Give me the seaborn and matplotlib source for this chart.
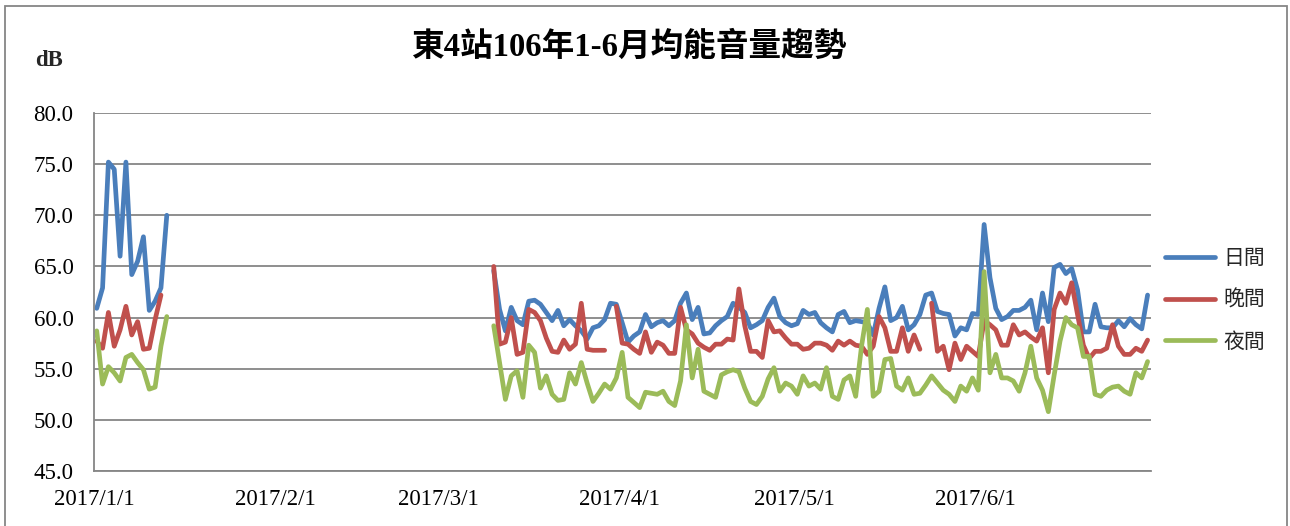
import numpy as np
import pandas as pd
import matplotlib
matplotlib.use("Agg")
import matplotlib.pyplot as plt
from matplotlib.patches import Rectangle
import seaborn as sns

# ---------------- data ----------------
title = "東4站106年1-6月均能音量趨勢"
series_names = ["日間", "晚間", "夜間"]
series_colors = ["#4A7EBB", "#C0504D", "#9BBB59"]

jan_start = "2017-01-01"
jan_day = [60.9, 62.9, 75.2, 74.5, 66.0, 75.2, 64.2, 65.5, 67.9, 60.7, 61.6, 62.9, 70.0]
jan_eve = [57.7, 57.0, 60.5, 57.2, 58.8, 61.1, 58.3, 59.6, 56.9, 57.0, 59.8, 62.2, np.nan]
jan_night = [58.7, 53.5, 55.2, 54.6, 53.8, 56.1, 56.4, 55.6, 54.9, 53.0, 53.2, 57.2, 60.1]

spring_start = "2017-03-10"
spring_day = [
    64.6, 60.8, 58.7, 61.0, 59.7, 59.3, 61.6, 61.7, 61.3, 60.5,
    59.7, 60.7, 59.2, 59.8, 59.2, 58.7, 57.9, 59.0, 59.2, 59.8,
    61.4, 61.3, 59.5, 57.6, 58.2, 58.6, 60.3, 59.1, 59.5, 59.7,
    59.2, 59.7, 61.4, 62.4, 59.8, 61.0, 58.4, 58.5, 59.2, 59.7,
    60.1, 61.4, 61.0, 60.5, 59.0, 59.3, 59.7, 61.0, 61.9, 60.1,
    59.5, 59.2, 59.4, 60.7, 60.3, 60.5, 59.5, 59.0, 58.6, 60.3,
    60.6, 59.5, 59.7, 59.6, 59.5, 58.3, 60.9, 63.0, 59.7, 60.0,
    61.1, 58.8, 59.3, 60.3, 62.2, 62.4, 60.6, 60.4, 60.3, 58.2,
    59.0, 58.8, 60.4, 60.3, 69.1, 63.9, 60.9, 59.8, 60.1, 60.7,
    60.7, 61.0, 61.7, 58.8, 62.4, 59.6, 64.9, 65.2, 64.3, 64.8,
    62.7, 58.6, 58.6, 61.3, 59.1, 59.0, 59.0, 59.7, 59.1, 59.9,
    59.3, 58.9, 62.2,
]
spring_eve = [
    65.0, 57.4, 57.6, 60.0, 56.4, 56.6, 60.8, 60.5, 59.7, 58.0,
    56.7, 56.6, 57.8, 56.9, 57.4, 61.4, 56.9, 56.8, 56.8, 56.8,
    np.nan, 61.1, 57.5, 57.4, 56.9, 56.5, 58.6, 56.6, 57.6, 57.3,
    56.5, 56.5, 61.0, 58.8, 58.4, 57.5, 57.1, 56.8, 57.4, 57.4,
    57.9, 57.8, 62.8, 59.2, 56.7, 56.7, 56.1, 59.7, 58.6, 58.7,
    58.0, 57.4, 57.4, 56.9, 57.0, 57.5, 57.5, 57.3, 56.8, 57.7,
    57.3, 57.7, 57.3, 57.2, 56.4, 57.2, 60.1, 59.0, 56.7, 56.7,
    59.0, 56.7, 58.3, 56.9, np.nan, 61.4, 56.7, 57.2, 54.9, 57.5,
    55.9, 57.2, 56.7, 56.2, 59.7, 59.3, 58.8, 57.3, 57.3, 59.3,
    58.3, 58.6, 58.1, 57.7, 59.0, 54.6, 60.8, 62.4, 61.4, 63.4,
    60.3, 57.3, 56.0, 56.7, 56.7, 57.0, 59.3, 57.2, 56.4, 56.4,
    57.0, 56.7, 57.8,
]
spring_night = [
    59.2, 55.6, 52.0, 54.3, 54.8, 52.2, 57.3, 56.6, 53.1, 54.3,
    52.5, 51.9, 52.0, 54.6, 53.5, 55.6, 53.6, 51.8, 52.6, 53.5,
    53.0, 54.1, 56.6, 52.2, 51.7, 51.2, 52.7, 52.6, 52.5, 52.8,
    51.8, 51.4, 53.8, 59.3, 54.1, 56.9, 52.8, 52.5, 52.2, 54.4,
    54.7, 54.9, 54.7, 53.1, 51.8, 51.5, 52.3, 54.0, 55.1, 52.8,
    53.6, 53.3, 52.5, 54.3, 53.3, 53.6, 53.0, 55.1, 52.3, 52.0,
    53.9, 54.3, 52.3, 57.2, 60.8, 52.3, 52.8, 55.9, 56.0, 53.3,
    52.9, 54.1, 52.5, 52.6, 53.4, 54.3, 53.6, 52.9, 52.5, 51.8,
    53.3, 52.8, 54.1, 52.9, 64.5, 54.6, 56.4, 54.1, 54.1, 53.8,
    52.8, 54.6, 57.2, 54.1, 52.9, 50.8, 54.4, 57.7, 60.0, 59.3,
    59.0, 56.2, 56.2, 52.5, 52.3, 52.9, 53.2, 53.3, 52.8, 52.5,
    54.6, 54.1, 55.7,
]

y_ticks = [45, 50, 55, 60, 65, 70, 75, 80]
x_tick_dates = ["2017-01-01", "2017-02-01", "2017-03-01", "2017-04-01",
                "2017-05-01", "2017-06-01", "2017-07-01"]
x_tick_labels = ["2017/1/1", "2017/2/1", "2017/3/1", "2017/4/1",
                 "2017/5/1", "2017/6/1", ""]

# ---------------- build long table ----------------
frames = []
blocks = [(jan_start, [jan_day, jan_eve, jan_night]),
          (spring_start, [spring_day, spring_eve, spring_night])]
seg_base = 0
for start, vals_list in blocks:
    for name, vals in zip(series_names, vals_list):
        v = np.asarray(vals, dtype=float)
        # daily values drawn at mid-day
        dates = pd.date_range(start, periods=len(v), freq="D") + pd.Timedelta(hours=10)
        seg = np.cumsum(np.isnan(v)) + seg_base
        frames.append(pd.DataFrame({"date": dates, "value": v,
                                    "series": name, "seg": seg}))
    seg_base += 1000
df = pd.concat(frames, ignore_index=True).dropna(subset=["value"])

# ---------------- plot ----------------
sns.set_theme(style="white")
plt.rcParams["font.family"] = ["Liberation Serif", "Noto Sans CJK TC", "DejaVu Sans"]
plt.rcParams["lines.solid_joinstyle"] = "round"
plt.rcParams["lines.solid_capstyle"] = "round"

fig = plt.figure(figsize=(12.9, 5.26), dpi=100)
ax = fig.add_axes([94.3 / 1290, 1 - 471 / 526, (1151 - 94.3) / 1290, (471 - 113) / 526])

sns.lineplot(data=df, x="date", y="value", hue="series", units="seg",
             estimator=None, hue_order=series_names,
             palette=dict(zip(series_names, series_colors)),
             linewidth=3.4, sort=True, ax=ax)

gray = "#868686"
ax.set_ylim(45, 80)
ax.set_yticks(y_ticks)
ax.set_yticklabels([f"{t:.1f}" for t in y_ticks])
ax.set_xlim(pd.Timestamp("2017-01-01"), pd.Timestamp("2017-07-01"))
ax.set_xticks([pd.Timestamp(d) for d in x_tick_dates])
ax.set_xticklabels(x_tick_labels)
ax.set_xlabel("")
ax.set_ylabel("")
ax.yaxis.grid(True, color=gray, linewidth=1.3)
ax.xaxis.grid(False)
ax.set_axisbelow(True)
for s in ["top", "right"]:
    ax.spines[s].set_visible(False)
for s in ["left", "bottom"]:
    ax.spines[s].set_color(gray)
    ax.spines[s].set_linewidth(1.3)
ax.tick_params(axis="both", direction="out", length=6, width=1.3, color=gray,
               labelsize=16.5, labelcolor="black")
ax.tick_params(axis="y", pad=9)
ax.tick_params(axis="x", pad=7)
ax.set_facecolor("white")

# legend
handles, labels = ax.get_legend_handles_labels()
if ax.legend_:
    ax.legend_.remove()
fig.legend(handles, labels, loc="center left",
           bbox_to_anchor=(1146 / 1290, 1 - 300 / 526), frameon=False,
           prop={"family": ["Noto Sans CJK TC"], "size": 15},
           handlelength=2.4, handletextpad=0.4, labelspacing=0.95)
for h in fig.legends[0].legend_handles:
    h.set_linewidth(3.4)

# title and unit label
fig.text(629 / 1290, 1 - 47 / 526, title, ha="center", va="center",
         fontsize=23.5, fontweight="bold", color="black",
         family=["Liberation Serif", "Noto Sans CJK TC"])
fig.text(35 / 1290, 1 - 60 / 526, "dB", ha="left", va="center",
         fontsize=16.5, fontweight="bold", family=["Liberation Serif"])

# outer chart border
fig.patches.append(Rectangle((5 / 1290, -0.05), (1287 - 5) / 1290, 1.05 - 6 / 526,
                             transform=fig.transFigure, fill=False,
                             edgecolor=gray, linewidth=1.3))

fig.savefig("out.png", dpi=100, facecolor="white")
